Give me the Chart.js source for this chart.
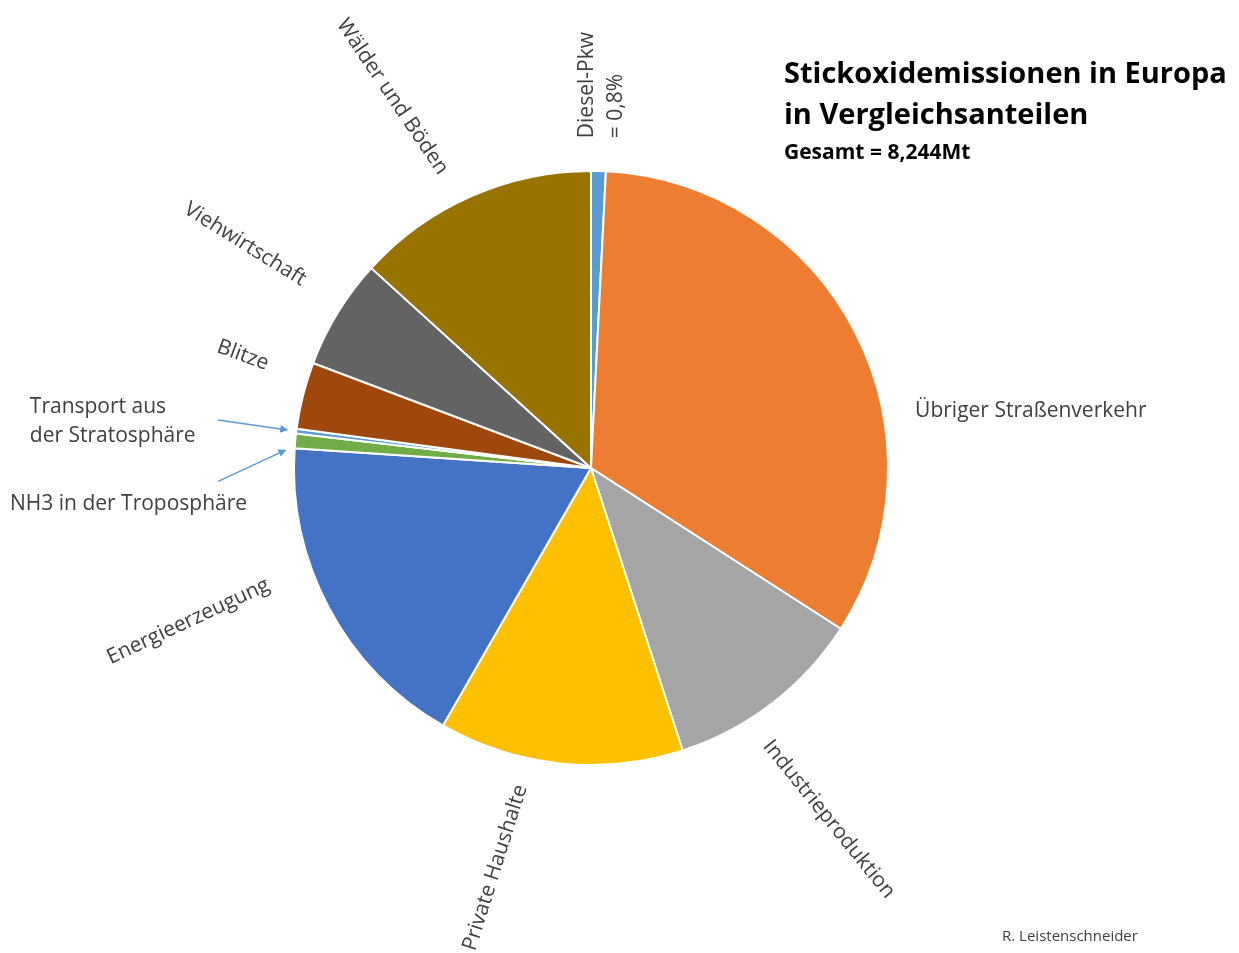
<!DOCTYPE html>
<html>
<head>
<meta charset="utf-8">
<title>Stickoxidemissionen in Europa</title>
<script src="https://cdn.jsdelivr.net/npm/chart.js@4.4.0/dist/chart.umd.min.js"></script>
<style>
  body { margin: 0; background: #fff; font-family: "Open Sans", sans-serif; }
  #wrap { position: relative; width: 1239px; height: 953px; }
  #title { position: absolute; left: 784px; top: 51px; color: #000; font-weight: bold; }
  #title .big { font-size: 29px; line-height: 41px; }
  #title .small { font-size: 21px; line-height: 24px; margin-top: 6px; }
  #credit { position: absolute; left: 1002px; top: 925px; font-size: 15px; color: #404040; }
</style>
</head>
<body>
<div id="wrap">
  <canvas id="canvas_nox" width="1239" height="953"></canvas>
  <div id="title">
    <div class="big">Stickoxidemissionen in Europa</div>
    <div class="big">in Vergleichsanteilen</div>
    <div class="small">Gesamt = 8,244Mt</div>
  </div>
  <div id="credit">R. Leistenschneider</div>
</div>
<script>
// slices, clockwise from 12 o'clock
var categories = ['Diesel-Pkw', 'Übriger Straßenverkehr', 'Industrieproduktion', 'Private Haushalte',
  'Energieerzeugung', 'NH3 in der Troposphäre', 'Transport aus der Stratosphäre', 'Blitze',
  'Viehwirtschaft', 'Wälder und Böden'];
// shares in percent
var shares = [0.8, 33.3, 10.9, 13.3, 17.75, 0.8, 0.25, 3.64, 6.0, 13.25];
var sliceColors = ['#5B9BD5', '#ED7D31', '#A5A5A5', '#FFC000', '#4472C4', '#70AD47', '#5B9BD5',
  '#9E480E', '#636363', '#997300'];
// label text as shown (line breaks)
var labelLines = [['Diesel-Pkw', '= 0,8%'], ['Übriger Straßenverkehr'], ['Industrieproduktion'],
  ['Private Haushalte'], ['Energieerzeugung'], ['NH3 in der Troposphäre'],
  ['Transport aus', 'der Stratosphäre'], ['Blitze'], ['Viehwirtschaft'], ['Wälder und Böden']];

// label placement: turn = degrees from slice middle, dist = factor of radius, rot = text rotation
var labelPlace = [
  { turn: 0.3, dist: 1.111, rot: -90, align: 'left' },
  { turn: 17.2, dist: 1.108, rot: 0, align: 'left' },
  { turn: 3.5, dist: 1.428, rot: 51, align: 'center' },
  { turn: 7.5, dist: 1.384, rot: -72.5, align: 'center' },
  { turn: 7.3, dist: 1.451, rot: -25, align: 'center' },
  { turn: -8.8, dist: 1.960, rot: 0, align: 'left' },
  { turn: -2.4, dist: 1.896, rot: 0, align: 'left' },
  { turn: 3.8, dist: 1.232, rot: 20, align: 'center' },
  { turn: 1.4, dist: 1.387, rot: 32, align: 'center' },
  { turn: -4.3, dist: 1.418, rot: 56, align: 'center' }
];
// arrows for the two thin slices
var arrowPlace = {
  5: { tipTurn: -1.8, tipDist: 1.027, tailTurn: -7.3, tailDist: 1.256 },
  6: { tipTurn: 0, tipDist: 1.027, tailTurn: 0.2, tailDist: 1.266 }
};

function polar(arc, turnDeg, dist) {
  var a = (arc.startAngle + arc.endAngle) / 2 + turnDeg * Math.PI / 180;
  var r = arc.outerRadius * dist;
  return { x: arc.x + Math.cos(a) * r, y: arc.y + Math.sin(a) * r };
}

var sliceLabels = {
  id: 'sliceLabels',
  afterDatasetsDraw: function(chart) {
    var ctx = chart.ctx;
    var arcs = chart.getDatasetMeta(0).data;
    ctx.save();
    ctx.font = '21px "Open Sans"';
    ctx.fillStyle = '#404040';
    ctx.textBaseline = 'middle';
    arcs.forEach(function(arc, i) {
      var p = labelPlace[i];
      var pos = polar(arc, p.turn, p.dist);
      var lines = labelLines[i];
      var lh = 29;
      ctx.save();
      ctx.translate(pos.x, pos.y);
      ctx.rotate(p.rot * Math.PI / 180);
      ctx.textAlign = p.align;
      lines.forEach(function(t, k) {
        ctx.fillText(t, 0, (k - (lines.length - 1) / 2) * lh);
      });
      ctx.restore();

      var ar = arrowPlace[i];
      if (ar) {
        var tip = polar(arc, ar.tipTurn, ar.tipDist);
        var tail = polar(arc, ar.tailTurn, ar.tailDist);
        var ang = Math.atan2(tip.y - tail.y, tip.x - tail.x);
        ctx.strokeStyle = '#5B9BD5';
        ctx.fillStyle = '#5B9BD5';
        ctx.lineWidth = 1.5;
        ctx.beginPath();
        ctx.moveTo(tail.x, tail.y);
        ctx.lineTo(tip.x - Math.cos(ang) * 6, tip.y - Math.sin(ang) * 6);
        ctx.stroke();
        ctx.beginPath();
        ctx.moveTo(tip.x, tip.y);
        ctx.lineTo(tip.x - Math.cos(ang - 0.45) * 9, tip.y - Math.sin(ang - 0.45) * 9);
        ctx.lineTo(tip.x - Math.cos(ang + 0.45) * 9, tip.y - Math.sin(ang + 0.45) * 9);
        ctx.closePath();
        ctx.fill();
        ctx.fillStyle = '#404040';
      }
    });
    ctx.restore();
  }
};

var ctx = document.getElementById('canvas_nox');
var pieChart = new Chart(ctx, {
  type: 'pie',
  data: {
    labels: categories,
    datasets: [{
      data: shares,
      backgroundColor: sliceColors,
      borderColor: '#ffffff',
      borderWidth: 2,
      hoverOffset: 0
    }]
  },
  options: {
    responsive: false,
    animation: false,
    layout: { padding: { left: 293, top: 170, right: 350, bottom: 187 } },
    plugins: {
      legend: { display: false },
      tooltip: { enabled: false }
    }
  },
  plugins: [sliceLabels]
});
</script>
</body>
</html>
